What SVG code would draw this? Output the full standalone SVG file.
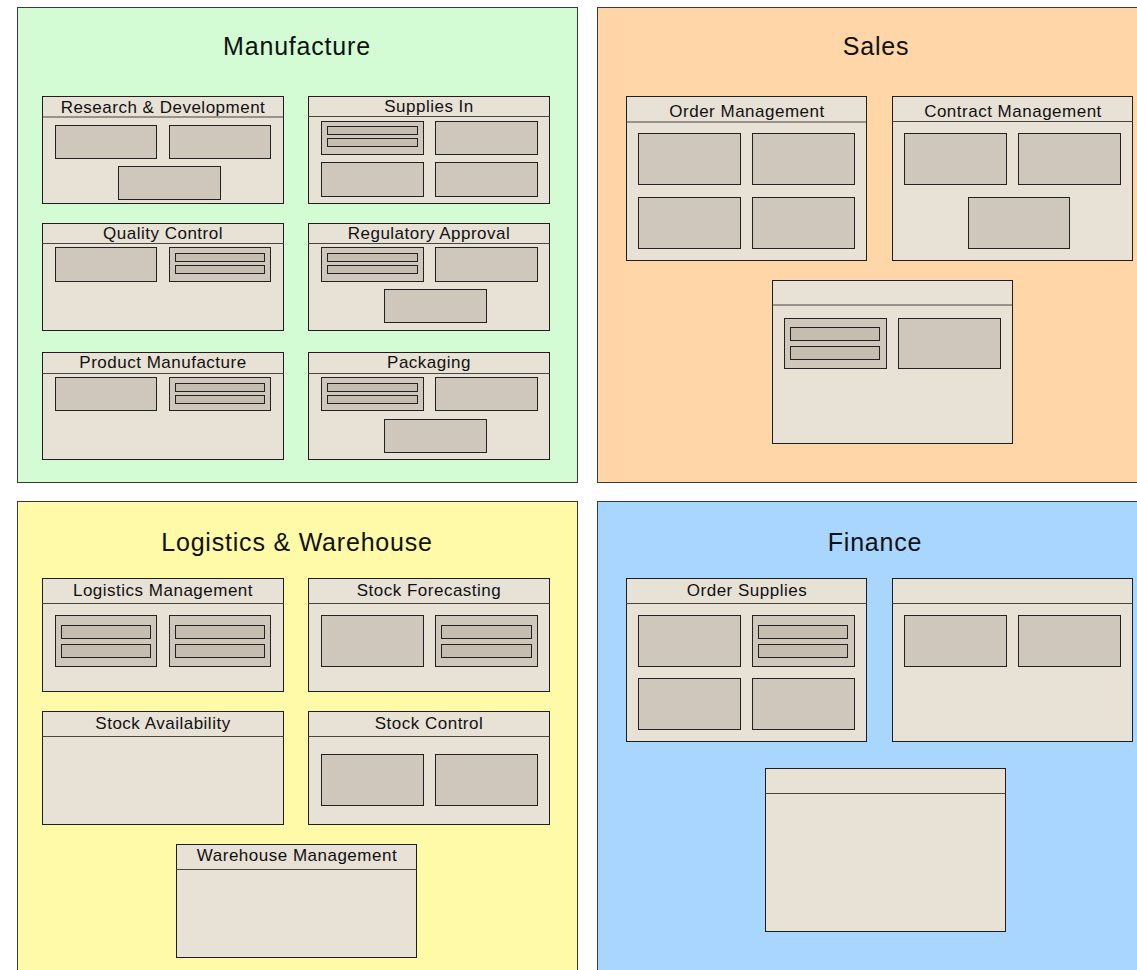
<svg xmlns="http://www.w3.org/2000/svg" width="1137" height="970" viewBox="0 0 1137 970">
  <style>
    .area { stroke: #3a3a3a; stroke-width: 1; }
    .box { fill: #e8e1d6; stroke: #1e1e1e; stroke-width: 1; }
    .hdr { stroke: #4a4540; stroke-width: 1.2; }
    .cell { fill: #cfc7bb; stroke: #222; stroke-width: 1; }
    .bar { fill: #c5bdb0; stroke: #222; stroke-width: 1; }
    .title { font-family: "Liberation Sans", Arial, sans-serif; font-size: 25px; letter-spacing: 0.8px; fill: #111; text-anchor: middle; }
    .label { font-family: "Liberation Sans", Arial, sans-serif; font-size: 17px; letter-spacing: 0.5px; fill: #111; text-anchor: middle; }
  </style>
  <rect width="1137" height="970" fill="#ffffff"/>

  <!-- Manufacture -->
  <g id="manufacture">
    <rect class="area" x="17.5" y="7.5" width="560" height="475" fill="#d4fcd4"/>
    <text class="title" x="297" y="55">Manufacture</text>
  </g>
  <g id="research-development">
    <rect class="box" x="42.5" y="96.5" width="241" height="107"/>
    <line class="hdr" x1="42.5" y1="117" x2="283.5" y2="117"/>
    <text class="label" x="163" y="113">Research &amp; Development</text>
    <rect class="cell" x="55.5" y="125.5" width="101" height="33"/>
    <rect class="cell" x="169.5" y="125.5" width="101" height="33"/>
    <rect class="cell" x="118.5" y="166.5" width="102" height="33"/>
  </g>
  <g id="supplies-in">
    <rect class="box" x="308.5" y="96.5" width="241" height="107"/>
    <line class="hdr" x1="308.5" y1="116.5" x2="549.5" y2="116.5"/>
    <text class="label" x="429" y="112">Supplies In</text>
    <rect class="cell" x="321.5" y="121.5" width="102" height="33"/>
    <rect class="bar" x="327.5" y="126.5" width="90" height="8"/>
    <rect class="bar" x="327.5" y="138.5" width="90" height="8"/>
    <rect class="cell" x="435.5" y="121.5" width="102" height="33"/>
    <rect class="cell" x="321.5" y="162.5" width="102" height="34"/>
    <rect class="cell" x="435.5" y="162.5" width="102" height="34"/>
  </g>
  <g id="quality-control">
    <rect class="box" x="42.5" y="223.5" width="241" height="107"/>
    <line class="hdr" x1="42.5" y1="243.5" x2="283.5" y2="243.5"/>
    <text class="label" x="163" y="239">Quality Control</text>
    <rect class="cell" x="55.5" y="247.5" width="101" height="34"/>
    <rect class="cell" x="169.5" y="247.5" width="101" height="34"/>
    <rect class="bar" x="175.5" y="253.5" width="89" height="8"/>
    <rect class="bar" x="175.5" y="265.5" width="89" height="8"/>
  </g>
  <g id="regulatory-approval">
    <rect class="box" x="308.5" y="223.5" width="241" height="107"/>
    <line class="hdr" x1="308.5" y1="243.5" x2="549.5" y2="243.5"/>
    <text class="label" x="429" y="239">Regulatory Approval</text>
    <rect class="cell" x="321.5" y="247.5" width="102" height="34"/>
    <rect class="bar" x="327.5" y="253.5" width="90" height="8"/>
    <rect class="bar" x="327.5" y="265.5" width="90" height="8"/>
    <rect class="cell" x="435.5" y="247.5" width="102" height="34"/>
    <rect class="cell" x="384.5" y="289.5" width="102" height="33"/>
  </g>
  <g id="product-manufacture">
    <rect class="box" x="42.5" y="352.5" width="241" height="107"/>
    <line class="hdr" x1="42.5" y1="373.5" x2="283.5" y2="373.5"/>
    <text class="label" x="163" y="368">Product Manufacture</text>
    <rect class="cell" x="55.5" y="377.5" width="101" height="33"/>
    <rect class="cell" x="169.5" y="377.5" width="101" height="33"/>
    <rect class="bar" x="175.5" y="383.5" width="89" height="8"/>
    <rect class="bar" x="175.5" y="395.5" width="89" height="8"/>
  </g>
  <g id="packaging">
    <rect class="box" x="308.5" y="352.5" width="241" height="107"/>
    <line class="hdr" x1="308.5" y1="373.5" x2="549.5" y2="373.5"/>
    <text class="label" x="429" y="368">Packaging</text>
    <rect class="cell" x="321.5" y="377.5" width="102" height="33"/>
    <rect class="bar" x="327.5" y="383.5" width="90" height="8"/>
    <rect class="bar" x="327.5" y="395.5" width="90" height="8"/>
    <rect class="cell" x="435.5" y="377.5" width="102" height="33"/>
    <rect class="cell" x="384.5" y="419.5" width="102" height="33"/>
  </g>

  <!-- Sales -->
  <g id="sales">
    <rect class="area" x="597.5" y="7.5" width="560" height="475" fill="#ffd6a8"/>
    <text class="title" x="876" y="55">Sales</text>
  </g>
  <g id="order-management">
    <rect class="box" x="626.5" y="96.5" width="240" height="164"/>
    <line class="hdr" x1="626.5" y1="122" x2="866.5" y2="122"/>
    <text class="label" x="747" y="117">Order Management</text>
    <rect class="cell" x="638.5" y="133.5" width="102" height="51"/>
    <rect class="cell" x="752.5" y="133.5" width="102" height="51"/>
    <rect class="cell" x="638.5" y="197.5" width="102" height="51"/>
    <rect class="cell" x="752.5" y="197.5" width="102" height="51"/>
  </g>
  <g id="contract-management">
    <rect class="box" x="892.5" y="96.5" width="240" height="164"/>
    <line class="hdr" x1="892.5" y1="121.5" x2="1132.5" y2="121.5"/>
    <text class="label" x="1013" y="117">Contract Management</text>
    <rect class="cell" x="904.5" y="133.5" width="102" height="51"/>
    <rect class="cell" x="1018.5" y="133.5" width="102" height="51"/>
    <rect class="cell" x="968.5" y="197.5" width="101" height="51"/>
  </g>
  <g id="sales-unit">
    <rect class="box" x="772.5" y="280.5" width="240" height="163"/>
    <line class="hdr" x1="772.5" y1="305" x2="1012.5" y2="305"/>
    <rect class="cell" x="784.5" y="318.5" width="102" height="50"/>
    <rect class="bar" x="790.5" y="327.5" width="89" height="13"/>
    <rect class="bar" x="790.5" y="346.5" width="89" height="13"/>
    <rect class="cell" x="898.5" y="318.5" width="102" height="50"/>
  </g>

  <!-- Logistics & Warehouse -->
  <g id="logistics-warehouse">
    <rect class="area" x="17.5" y="501.5" width="560" height="480" fill="#fffaa8"/>
    <text class="title" x="297" y="551">Logistics &amp; Warehouse</text>
  </g>
  <g id="logistics-management">
    <rect class="box" x="42.5" y="578.5" width="241" height="113"/>
    <line class="hdr" x1="42.5" y1="603.5" x2="283.5" y2="603.5"/>
    <text class="label" x="163" y="596">Logistics Management</text>
    <rect class="cell" x="55.5" y="615.5" width="101" height="51"/>
    <rect class="bar" x="61.5" y="625.5" width="89" height="13"/>
    <rect class="bar" x="61.5" y="644.5" width="89" height="13"/>
    <rect class="cell" x="169.5" y="615.5" width="101" height="51"/>
    <rect class="bar" x="175.5" y="625.5" width="89" height="13"/>
    <rect class="bar" x="175.5" y="644.5" width="89" height="13"/>
  </g>
  <g id="stock-forecasting">
    <rect class="box" x="308.5" y="578.5" width="241" height="113"/>
    <line class="hdr" x1="308.5" y1="603.5" x2="549.5" y2="603.5"/>
    <text class="label" x="429" y="596">Stock Forecasting</text>
    <rect class="cell" x="321.5" y="615.5" width="102" height="51"/>
    <rect class="cell" x="435.5" y="615.5" width="102" height="51"/>
    <rect class="bar" x="441.5" y="625.5" width="90" height="13"/>
    <rect class="bar" x="441.5" y="644.5" width="90" height="13"/>
  </g>
  <g id="stock-availability">
    <rect class="box" x="42.5" y="711.5" width="241" height="113"/>
    <line class="hdr" x1="42.5" y1="736.5" x2="283.5" y2="736.5"/>
    <text class="label" x="163" y="729">Stock Availability</text>
  </g>
  <g id="stock-control">
    <rect class="box" x="308.5" y="711.5" width="241" height="113"/>
    <line class="hdr" x1="308.5" y1="736.5" x2="549.5" y2="736.5"/>
    <text class="label" x="429" y="729">Stock Control</text>
    <rect class="cell" x="321.5" y="754.5" width="102" height="51"/>
    <rect class="cell" x="435.5" y="754.5" width="102" height="51"/>
  </g>
  <g id="warehouse-management">
    <rect class="box" x="176.5" y="844.5" width="240" height="113"/>
    <line class="hdr" x1="176.5" y1="869.5" x2="416.5" y2="869.5"/>
    <text class="label" x="297" y="861">Warehouse Management</text>
  </g>

  <!-- Finance -->
  <g id="finance">
    <rect class="area" x="597.5" y="501.5" width="560" height="480" fill="#a8d6ff"/>
    <text class="title" x="875" y="551">Finance</text>
  </g>
  <g id="order-supplies">
    <rect class="box" x="626.5" y="578.5" width="240" height="163"/>
    <line class="hdr" x1="626.5" y1="603.5" x2="866.5" y2="603.5"/>
    <text class="label" x="747" y="596">Order Supplies</text>
    <rect class="cell" x="638.5" y="615.5" width="102" height="51"/>
    <rect class="cell" x="752.5" y="615.5" width="102" height="51"/>
    <rect class="bar" x="758.5" y="625.5" width="89" height="13"/>
    <rect class="bar" x="758.5" y="644.5" width="89" height="13"/>
    <rect class="cell" x="638.5" y="678.5" width="102" height="51"/>
    <rect class="cell" x="752.5" y="678.5" width="102" height="51"/>
  </g>
  <g id="finance-unit">
    <rect class="box" x="892.5" y="578.5" width="240" height="163"/>
    <line class="hdr" x1="892.5" y1="603.5" x2="1132.5" y2="603.5"/>
    <rect class="cell" x="904.5" y="615.5" width="102" height="51"/>
    <rect class="cell" x="1018.5" y="615.5" width="102" height="51"/>
  </g>
  <g id="finance-unit-2">
    <rect class="box" x="765.5" y="768.5" width="240" height="163"/>
    <line class="hdr" x1="765.5" y1="793.5" x2="1005.5" y2="793.5"/>
  </g>

  <!-- no connectors in this diagram -->
  <g id="connectors"/>
</svg>
